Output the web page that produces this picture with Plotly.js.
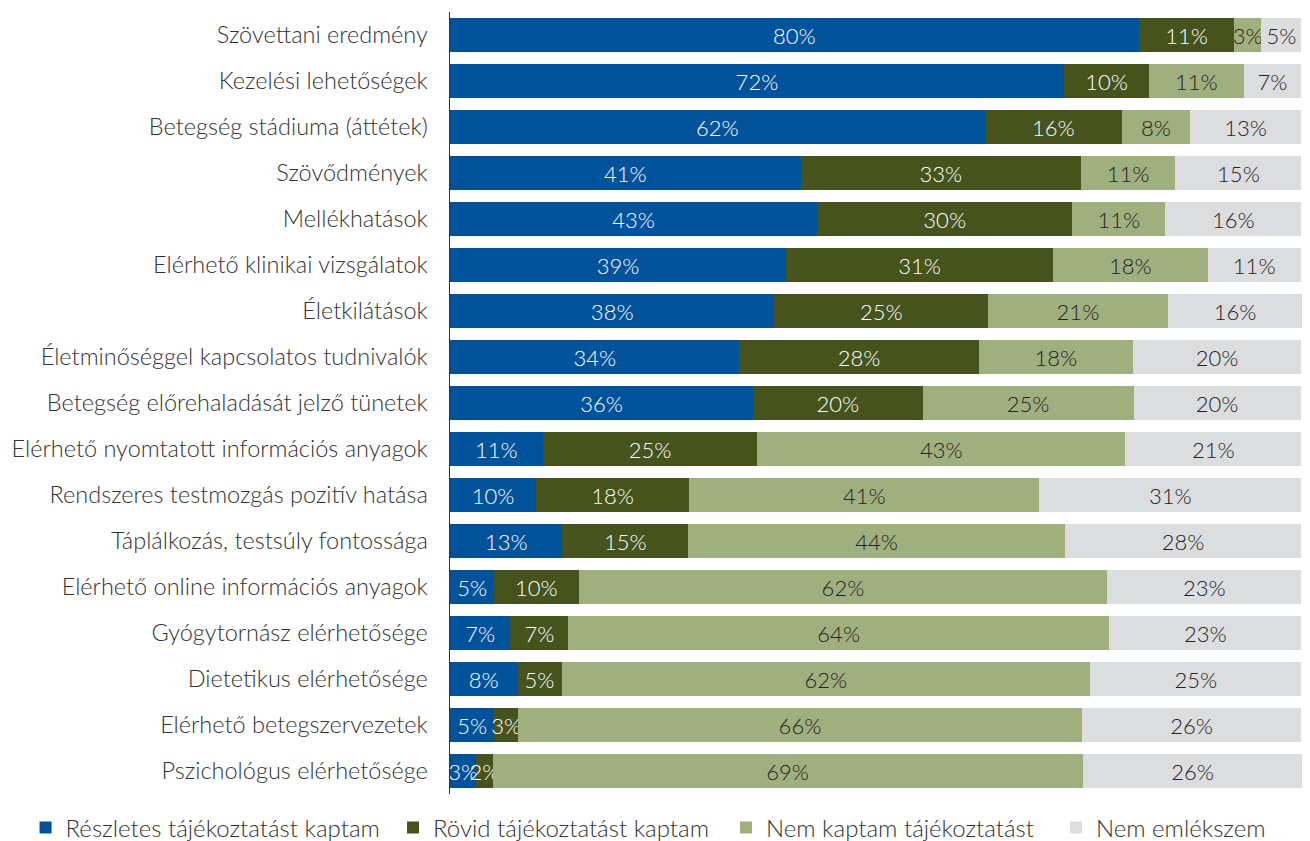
<!DOCTYPE html>
<html>
<head>
<meta charset="utf-8">
<script src="https://cdn.plot.ly/plotly-3.0.1.min.js"></script>
<style>html,body{margin:0;padding:0;background:#fff;}#chart{width:1310px;height:841px;}</style>
</head>
<body>
<div id="chart"></div>
<script>
const categories = [
  "Szövettani eredmény",
  "Kezelési lehetőségek",
  "Betegség stádiuma (áttétek)",
  "Szövődmények",
  "Mellékhatások",
  "Elérhető klinikai vizsgálatok",
  "Életkilátások",
  "Életminőséggel kapcsolatos tudnivalók",
  "Betegség előrehaladását jelző tünetek",
  "Elérhető nyomtatott információs anyagok",
  "Rendszeres testmozgás pozitív hatása",
  "Táplálkozás, testsúly fontossága",
  "Elérhető online információs anyagok",
  "Gyógytornász elérhetősége",
  "Dietetikus elérhetősége",
  "Elérhető betegszervezetek",
  "Pszichológus elérhetősége"
];

const seriesNames = [
  "Részletes tájékoztatást kaptam",
  "Rövid tájékoztatást kaptam",
  "Nem kaptam tájékoztatást",
  "Nem emlékszem"
];

// bar lengths
const reszletes = [80.9, 72.1, 62.8, 41.2, 43.1, 39.5, 38.1, 34.0, 35.6, 10.9, 10.1, 13.2, 5.2, 7.1, 7.9, 5.2, 3.1];
const rovid     = [11.2, 10.0, 16.1, 32.9, 30.0, 31.3, 25.1, 28.1, 19.9, 25.2, 18.0, 14.8, 9.9, 6.8, 5.2, 2.8, 1.9];
const nemKapt   = [3.2, 11.1, 8.0, 11.1, 10.9, 18.2, 21.1, 18.1, 24.8, 43.2, 41.1, 44.2, 62.1, 63.5, 62.1, 66.2, 69.3];
const nemEml    = [4.7, 6.8, 13.1, 14.8, 16.0, 10.9, 15.8, 19.8, 19.6, 20.7, 30.8, 27.8, 22.8, 22.6, 24.8, 25.8, 25.8];

// printed labels
const reszletesLbl = ["80%","72%","62%","41%","43%","39%","38%","34%","36%","11%","10%","13%","5%","7%","8%","5%","3%"];
const rovidLbl     = ["11%","10%","16%","33%","30%","31%","25%","28%","20%","25%","18%","15%","10%","7%","5%","3%","2%"];
const nemKaptLbl   = ["3%","11%","8%","11%","11%","18%","21%","18%","25%","43%","41%","44%","62%","64%","62%","66%","69%"];
const nemEmlLbl    = ["5%","7%","13%","15%","16%","11%","16%","20%","20%","21%","31%","28%","23%","23%","25%","26%","26%"];

const colors = ["#00529b", "#46531d", "#a0af7e", "#dcdddf"];
const textColors = ["#ffffff", "#ffffff", "#222222", "#222222"];
const legendIds = ["legend", "legend2", "legend3", "legend4"];
const legendX = [-0.497, -0.0667, 0.3232, 0.7096];

const FONT = "Lato, 'Open Sans', sans-serif";
const vals = [reszletes, rovid, nemKapt, nemEml];
const lbls = [reszletesLbl, rovidLbl, nemKaptLbl, nemEmlLbl];

const traces = vals.map((v, i) => ({
  type: "bar",
  orientation: "h",
  name: seriesNames[i],
  legend: legendIds[i],
  y: categories,
  x: v,
  text: lbls[i],
  textposition: "inside",
  insidetextanchor: "middle",
  textangle: 0,
  constraintext: "none",
  cliponaxis: false,
  textfont: {family: FONT, size: 22, weight: 300, color: textColors[i]},
  marker: {color: colors[i], line: {width: 0}},
  hoverinfo: "none"
}));

const layout = {
  width: 1310,
  height: 841,
  barmode: "stack",
  bargap: 0.26,
  margin: {l: 450, r: 6, t: 12, b: 47, autoexpand: false},
  paper_bgcolor: "#ffffff",
  plot_bgcolor: "#ffffff",
  font: {family: FONT, size: 22, color: "#333333"},
  showlegend: true,
  xaxis: {
    range: [0, 100.3],
    showgrid: false,
    zeroline: false,
    showticklabels: false,
    showline: false,
    fixedrange: true
  },
  yaxis: {
    type: "category",
    autorange: "reversed",
    showgrid: false,
    zeroline: false,
    showline: true,
    linecolor: "#333333",
    linewidth: 1.5,
    ticks: "",
    ticklabelstandoff: 16,
    tickfont: {family: FONT, size: 23.5, weight: 300, color: "#333333"},
    fixedrange: true
  }
};

legendIds.forEach((id, i) => {
  layout[id] = {
    orientation: "h",
    xref: "paper", yref: "paper",
    x: legendX[i], y: -0.0435,
    xanchor: "left", yanchor: "middle",
    bgcolor: "rgba(0,0,0,0)",
    font: {family: FONT, size: 24, weight: 300, color: "#333333"}
  };
});

Plotly.newPlot("chart", traces, layout, {displayModeBar: false, staticPlot: true});
</script>
</body>
</html>
